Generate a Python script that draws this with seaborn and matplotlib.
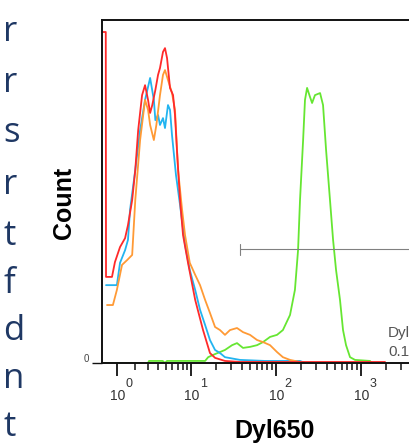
import numpy as np
import matplotlib.pyplot as plt
import matplotlib.transforms as mtransforms
from matplotlib.ticker import FixedLocator, NullFormatter
from matplotlib import font_manager
import seaborn as sns
import pandas as pd

sns.set_theme(style="white")
plt.rcParams['font.family'] = ['Liberation Sans', 'DejaVu Sans']

names = {f.name for f in font_manager.fontManager.ttflist}
label_font = 'Liberation Sans Narrow' if 'Liberation Sans Narrow' in names else 'Liberation Sans'

# slide text cut off at the left edge
side_letters = ['r', 'r', 's', 'r', 't', 'f', 'd', 'n', 't']

# histogram traces: Dyl650 intensity vs count (% of max)
green_x = [0.41, 3.0, 3.1, 4.6, 4.9, 5.2, 14.8, 16.1, 19.4, 25.4, 30.8, 35.2, 41.4, 50.1, 60.6,
           71.2, 86.1, 104, 122, 148, 169, 184, 194, 211, 222, 235, 254, 269, 291, 334, 362,
           393, 437, 475, 515, 573, 622, 675, 752, 861, 1293, 1350]
green_y = [0, 0, 0.6, 0.6, 0, 0.6, 0.6, 1.7, 2.6, 3.8, 5.2, 5.8, 4.4, 4.7, 5.2,
           6.1, 7.6, 8.2, 9.6, 14.0, 21.3, 32.9, 47.5, 65.0, 76.7, 80.2, 77.6, 75.8, 78.1, 78.7, 75.2,
           62.1, 47.5, 35.9, 27.1, 18.4, 9.6, 5.2, 1.7, 0.9, 0.6, 0]

blue_x = [0.53, 1.0, 1.15, 1.41, 1.57, 1.69, 2.02, 2.36, 2.75, 3.2, 3.57, 3.73, 4.03, 4.26, 4.64,
          4.91, 5.34, 5.65, 5.97, 6.67, 7.46, 8.56, 9.75, 11.3, 12.9, 14.8, 16.9, 19.4, 22.2,
          25.4, 38.2, 75, 194, 222]
blue_y = [22.7, 22.7, 29.2, 32.9, 35.9, 44.6, 56.3, 67.9, 76.7, 83.1, 76.7, 70.8, 72.3, 69.4, 71.4,
          68.5, 75.2, 73.8, 66.5, 54.8, 46.1, 34.4, 27.1, 21.3, 15.5, 11.1, 6.7, 3.8, 2.9,
          1.7, 0.9, 0.6, 0.6, 0]

orange_x = [0.57, 0.82, 1.0, 1.25, 1.52, 1.82, 2.02, 2.36, 2.75, 3.01, 3.2, 3.57, 3.84, 4.26, 4.64,
            4.91, 5.34, 5.97, 6.49, 7.06, 7.9, 8.56, 9.75, 11.3, 12.9, 14.8, 16.9, 19.4, 22.2,
            25.4, 29.1, 35.2, 41.4, 50.1, 60.6, 71.2, 86.1, 104, 122, 148, 194]
orange_y = [16.9, 16.9, 21.3, 28.6, 30.0, 31.5, 47.5, 65.0, 76.7, 73.8, 69.4, 65.0, 69.4, 78.1, 84.0,
            85.4, 82.5, 78.7, 73.8, 56.3, 44.6, 37.3, 29.2, 25.7, 22.7, 18.4, 14.6, 10.5, 9.6,
            8.2, 9.6, 10.2, 9.0, 8.2, 6.7, 6.1, 5.2, 3.2, 1.7, 0.9, 0.3]

red_x = [0.41, 0.52, 0.53, 0.78, 0.91, 1.15, 1.41, 1.57, 1.82, 2.02, 2.22, 2.51, 2.75, 3.01, 3.2,
         3.41, 3.73, 4.03, 4.26, 4.64, 4.91, 5.2, 5.65, 6.15, 6.49, 6.85, 7.46, 8.1, 9.29, 11.3,
         14.0, 16.9, 19.4, 25.4, 38.2, 1940]
red_y = [96.5, 96.5, 25.1, 25.1, 29.4, 33.8, 36.4, 40.2, 47.5, 56.3, 67.9, 78.1, 81.0, 76.7, 72.9,
         75.2, 79.6, 84.0, 86.0, 90.7, 91.8, 88.9, 80.2, 78.1, 72.3, 62.1, 47.5, 37.3, 29.2, 18.4,
         9.6, 2.9, 1.5, 0.6, 0.3, 0.3]

series = ['green', 'blue', 'orange', 'red']
colors = {'green': '#66E632', 'blue': '#22B4F0', 'orange': '#FF9A35', 'red': '#FF2A2A'}

# gate bar and its label
gate_start = 38.2
gate_level = 33.2
gate_name = 'Dyl650+'
gate_pct = '0.13'

decades = [1, 10, 100, 1000]

df = pd.concat([
    pd.DataFrame({'x': green_x, 'y': green_y, 'tube': 'green'}),
    pd.DataFrame({'x': blue_x, 'y': blue_y, 'tube': 'blue'}),
    pd.DataFrame({'x': orange_x, 'y': orange_y, 'tube': 'orange'}),
    pd.DataFrame({'x': red_x, 'y': red_y, 'tube': 'red'}),
], ignore_index=True)

W, H = 409, 446
AW, AH = 338, 343
fig = plt.figure(figsize=(W / 100, H / 100), dpi=100)
ax = fig.add_axes([102 / W, (H - 363) / H, AW / W, AH / H])

# FlowJo-like display: log at the top, squeezed near zero
ax.set_xscale('function', functions=(lambda v: np.arcsinh(np.asarray(v) / 1.4) / np.log(10),
                                     lambda u: 1.4 * np.sinh(np.asarray(u) * np.log(10))))

sns.lineplot(data=df, x='x', y='y', hue='tube', hue_order=series, palette=colors,
             estimator=None, sort=False, linewidth=1.3, legend=False, ax=ax)

ax.set_xlim(0.37, 8600)
ax.set_ylim(0, 100)

# gate
ax.plot([gate_start, 1e5], [gate_level, gate_level], color='#808080', lw=0.8)
ax.plot([gate_start, gate_start], [gate_level - 1.6, gate_level + 1.6], color='#808080', lw=0.8)
ax.text(2100, 8.7, gate_name, fontsize=11, color='#555555', va='center', ha='left')
ax.text(2100, 3.1, gate_pct, fontsize=11, color='#555555', va='center', ha='left')

for s in ['top', 'left', 'bottom']:
    ax.spines[s].set_color('#111111')
    ax.spines[s].set_linewidth(1.4)
ax.spines['right'].set_visible(False)

ax.xaxis.set_major_locator(FixedLocator(decades))
ax.xaxis.set_minor_locator(FixedLocator([k * d for d in decades for k in range(2, 10)]))
ax.xaxis.set_major_formatter(NullFormatter())
ax.tick_params(axis='x', which='major', bottom=True, length=9, width=1.3, color='#111111')
ax.tick_params(axis='x', which='minor', bottom=True, length=5, width=1.1, color='#111111')
ax.set_yticks([0])
ax.set_yticklabels(['0'], fontsize=7, color='#444444')
ax.tick_params(axis='y', which='major', left=True, length=7, width=1.0, color='#111111', pad=2)
for lab in ax.get_yticklabels():
    lab.set_transform(lab.get_transform() + mtransforms.ScaledTranslation(0, 5 / 100, fig.dpi_scale_trans))

# tick labels as 10 with a big exponent, FlowJo style
tr = mtransforms.blended_transform_factory(ax.transData, ax.transAxes)
for i, d in enumerate(decades):
    ax.annotate('10', xy=(d, 0), xycoords=tr, xytext=(1, -37), textcoords='offset pixels',
                ha='center', va='baseline', fontsize=10, color='#333333')
    ax.annotate(str(i), xy=(d, 0), xycoords=tr, xytext=(9, -24), textcoords='offset pixels',
                ha='left', va='baseline', fontsize=9, color='#333333')

ax.set_xlabel('Dyl650', fontsize=18, fontweight='bold', color='black', family=label_font)
ax.xaxis.set_label_coords((275 - 102) / AW, -(431 - 363) / AH)
ax.set_ylabel('Count', fontsize=18, fontweight='bold', color='black', family=label_font)
ax.yaxis.set_label_coords(-(102 - 64) / AW, (363 - 203) / AH)
ax.xaxis.label.set_verticalalignment('center')
ax.yaxis.label.set_verticalalignment('center')

for letter, base in zip(side_letters, [41, 92, 142, 194, 245, 293, 340, 388, 436]):
    fig.text(3 / W, 1 - base / H, letter, fontsize=25, color='#1F3864', family='Open Sans',
             ha='left', va='baseline')

fig.savefig('out.png', dpi=100)
